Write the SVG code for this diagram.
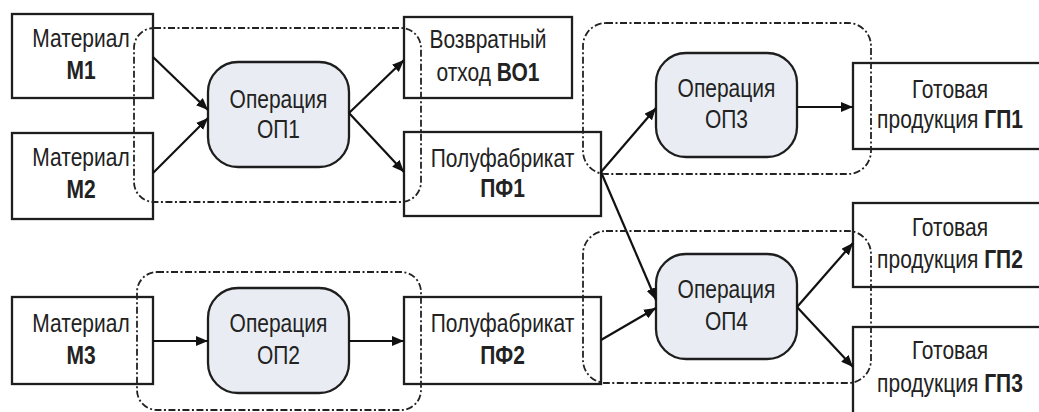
<svg xmlns="http://www.w3.org/2000/svg" width="1039" height="412" viewBox="0 0 1039 412">
  <style>
    .box { fill: #ffffff; stroke: #1e1e1e; stroke-width: 2.3; }
    .op { fill: #e9edf3; stroke: #1e1e1e; stroke-width: 2.3; }
    .grp { fill: none; stroke: #222222; stroke-width: 1.8; stroke-dasharray: 7 2.5 2 2.5; }
    .lbl { font-family: "Liberation Sans", Arial, sans-serif; font-size: 25px; fill: #222222; text-anchor: middle;
           transform-box: fill-box; transform-origin: center; transform: scaleX(0.84); }
    .b { font-weight: bold; }
    .edge { fill: none; stroke: #111111; stroke-width: 2.2; marker-end: url(#arrow); }
  </style>
  <defs>
    <marker id="arrow" markerUnits="userSpaceOnUse" markerWidth="13" markerHeight="10" refX="12" refY="5" orient="auto">
      <path d="M0,0 L12,5 L0,10 z" fill="#111111"/>
    </marker>
  </defs>

  <rect width="1039" height="412" fill="#ffffff"/>

  <!-- materials -->
  <g id="m1">
    <rect class="box" x="12" y="14" width="141" height="84"/>
    <text class="lbl" x="81" y="47">Материал</text>
    <text class="lbl b" x="81" y="79">М1</text>
  </g>
  <g id="m2">
    <rect class="box" x="12" y="133" width="141" height="86"/>
    <text class="lbl" x="81" y="166">Материал</text>
    <text class="lbl b" x="81" y="198">М2</text>
  </g>
  <g id="m3">
    <rect class="box" x="12" y="297" width="141" height="87"/>
    <text class="lbl" x="81" y="332">Материал</text>
    <text class="lbl b" x="81" y="364">М3</text>
  </g>

  <!-- operations -->
  <g id="op1">
    <rect class="op" x="208" y="62" width="141" height="105" rx="30"/>
    <text class="lbl" x="278.5" y="108">Операция</text>
    <text class="lbl" x="278.5" y="138">ОП1</text>
  </g>
  <g id="op2">
    <rect class="op" x="208" y="288" width="141" height="105" rx="30"/>
    <text class="lbl" x="278.5" y="332">Операция</text>
    <text class="lbl" x="278.5" y="364">ОП2</text>
  </g>
  <g id="op3">
    <rect class="op" x="656" y="53" width="141" height="104" rx="30"/>
    <text class="lbl" x="726.5" y="97">Операция</text>
    <text class="lbl" x="726.5" y="128">ОП3</text>
  </g>
  <g id="op4">
    <rect class="op" x="656" y="254" width="141" height="105" rx="30"/>
    <text class="lbl" x="726.5" y="298">Операция</text>
    <text class="lbl" x="726.5" y="330">ОП4</text>
  </g>

  <!-- intermediate products and waste -->
  <g id="bo1">
    <rect class="box" x="404" y="17" width="168" height="81"/>
    <text class="lbl" x="488" y="48">Возвратный</text>
    <text class="lbl" x="488" y="81">отход <tspan class="b">ВО1</tspan></text>
  </g>
  <g id="pf1">
    <rect class="box" x="404" y="132" width="197" height="84"/>
    <text class="lbl" x="502.5" y="167">Полуфабрикат</text>
    <text class="lbl b" x="502.5" y="197">ПФ1</text>
  </g>
  <g id="pf2">
    <rect class="box" x="404" y="297" width="197" height="87"/>
    <text class="lbl" x="502.5" y="332">Полуфабрикат</text>
    <text class="lbl b" x="502.5" y="364">ПФ2</text>
  </g>

  <!-- finished products -->
  <g id="gp1">
    <rect class="box" x="853" y="63" width="200" height="86"/>
    <text class="lbl" x="950" y="98">Готовая</text>
    <text class="lbl" x="950" y="128">продукция <tspan class="b">ГП1</tspan></text>
  </g>
  <g id="gp2">
    <rect class="box" x="853" y="203" width="200" height="84"/>
    <text class="lbl" x="950" y="236">Готовая</text>
    <text class="lbl" x="950" y="268">продукция <tspan class="b">ГП2</tspan></text>
  </g>
  <g id="gp3">
    <rect class="box" x="853" y="327" width="200" height="90"/>
    <text class="lbl" x="950" y="359">Готовая</text>
    <text class="lbl" x="950" y="392">продукция <tspan class="b">ГП3</tspan></text>
  </g>

  <!-- flows -->
  <g id="connectors">
    <line class="edge" x1="153" y1="57" x2="208" y2="110"/>
    <line class="edge" x1="153" y1="173" x2="208" y2="118"/>
    <line class="edge" x1="349" y1="113" x2="404" y2="60"/>
    <line class="edge" x1="349" y1="113" x2="404" y2="172"/>
    <line class="edge" x1="601" y1="172" x2="656" y2="108"/>
    <line class="edge" x1="601" y1="172" x2="656" y2="300"/>
    <line class="edge" x1="601" y1="340" x2="656" y2="308"/>
    <line class="edge" x1="797" y1="107" x2="853" y2="107"/>
    <line class="edge" x1="797" y1="307" x2="853" y2="243"/>
    <line class="edge" x1="797" y1="307" x2="853" y2="367"/>
    <line class="edge" x1="153" y1="341" x2="208" y2="341"/>
    <line class="edge" x1="349" y1="341" x2="404" y2="341"/>
  </g>

  <!-- operation boundaries -->
  <g id="groups">
    <rect class="grp" x="134" y="28" width="287" height="174" rx="20"/>
    <rect class="grp" x="137" y="272" width="284" height="138" rx="20"/>
    <rect class="grp" x="583" y="23" width="288" height="151" rx="23"/>
    <rect class="grp" x="583" y="231" width="288" height="152" rx="23"/>
  </g>
</svg>
